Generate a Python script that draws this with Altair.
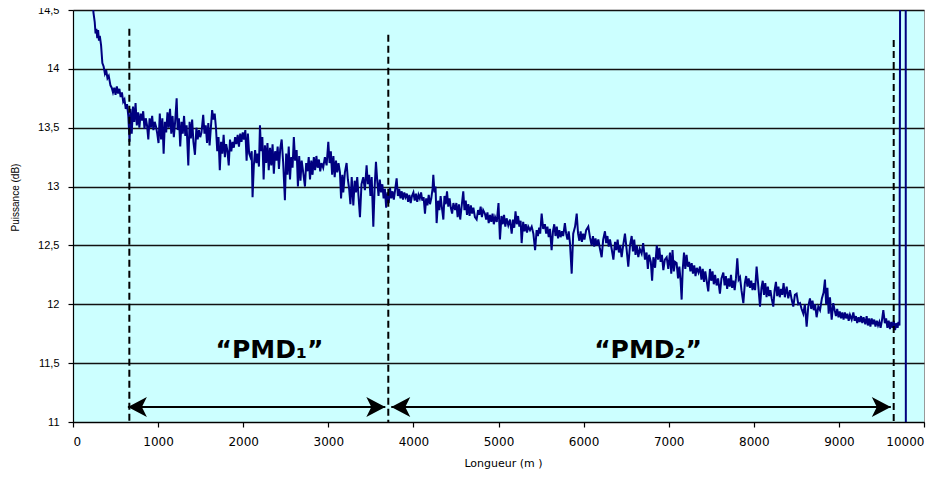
import altair as alt
import pandas as pd

# ---- data ----
distance_m = [
    225, 240, 255, 265, 275, 285, 295, 305, 315, 330, 345, 360, 375, 390, 405, 420, 440, 455, 470, 485,
    500, 515, 530, 545, 560, 575, 590, 605, 620, 635, 650,
    665, 675, 690, 705, 720, 735, 750, 765, 780, 795, 810, 825, 840, 855, 870, 885, 900, 915, 930, 945,
    960, 975, 990, 1005, 1020, 1035, 1050, 1065, 1080, 1095, 1110, 1125, 1140, 1155, 1170, 1185, 1200, 1218, 1230, 1245,
    1260, 1275, 1290, 1305, 1320, 1335, 1355, 1370, 1385, 1400, 1415, 1433, 1450, 1465, 1480, 1495, 1510, 1530, 1545, 1560,
    1575, 1590, 1605, 1620, 1635, 1650, 1665, 1680, 1695, 1710, 1725, 1740, 1755, 1770, 1785, 1800, 1815, 1830, 1845, 1860,
    1875, 1890, 1905, 1920, 1935, 1950, 1965, 1980, 1995, 2010, 2025, 2040, 2055, 2070, 2085, 2100, 2110, 2125, 2140, 2155,
    2170, 2185, 2197, 2210, 2225, 2240, 2255, 2270, 2285, 2300, 2315, 2330, 2345, 2360, 2375, 2390, 2405, 2420, 2435, 2452,
    2470, 2490, 2505, 2520, 2535, 2550, 2565, 2580, 2595, 2610, 2628, 2643, 2658, 2673, 2687, 2705, 2726, 2740, 2755, 2770,
    2785, 2800, 2815, 2830, 2845, 2860, 2875, 2890, 2905, 2920, 2940, 2960, 2980, 3000, 3015, 3030, 3045, 3060, 3075, 3090,
    3105, 3120, 3137, 3150, 3165, 3176, 3195, 3215, 3230, 3245, 3260, 3275, 3294, 3310, 3325, 3340, 3355, 3372, 3390, 3411,
    3430, 3450, 3465, 3480, 3495, 3510, 3529, 3545, 3560, 3575, 3590, 3605, 3620, 3635, 3650, 3665,
    3680, 3695, 3710, 3725, 3740, 3755, 3770, 3785, 3803, 3818, 3833, 3848, 3863, 3878, 3893, 3908, 3923, 3938, 3953, 3968,
    3983, 4000, 4015, 4030, 4045, 4060, 4075, 4090, 4105, 4120, 4136, 4150, 4165, 4180, 4195, 4210, 4225, 4234, 4248, 4260,
    4273, 4290, 4305, 4320, 4335, 4352, 4365, 4380, 4395, 4410, 4425, 4440, 4455, 4470, 4490, 4505, 4520, 4535, 4550, 4565,
    4586, 4600, 4615, 4630, 4645, 4660, 4675, 4690, 4705, 4723, 4743, 4760, 4775, 4790, 4805, 4820, 4840, 4855, 4870, 4885,
    4900, 4915, 4930, 4945, 4960, 4980, 5000, 5017, 5035, 5050, 5065, 5080, 5095, 5115, 5135, 5155, 5170, 5185, 5200, 5215,
    5230, 5245, 5260, 5272, 5290, 5305, 5320, 5335, 5350, 5370, 5390, 5410, 5430, 5448, 5463, 5478, 5490, 5507, 5525, 5545,
    5560, 5575, 5590, 5605, 5624, 5640, 5655, 5670, 5685, 5700, 5715, 5730, 5745, 5760, 5780, 5795, 5810, 5825, 5840, 5860,
    5878, 5900, 5919, 5935, 5950, 5965, 5980, 5995, 6010, 6030, 6055, 6075, 6095, 6110, 6125, 6140, 6155, 6173, 6190, 6212,
    6230, 6251, 6265, 6280, 6295, 6310, 6330, 6350, 6370, 6385, 6400, 6415, 6430, 6447, 6465, 6486, 6505, 6525, 6545, 6565,
    6580, 6595, 6610, 6625, 6643, 6660, 6682, 6700, 6721, 6740, 6755, 6770,
    6790, 6805, 6820, 6840, 6860, 6875, 6890, 6905, 6920, 6937, 6955, 6976, 6995, 7015, 7030, 7045, 7060, 7075, 7093, 7110,
    7125, 7140, 7152, 7165, 7180, 7195, 7210, 7225, 7240, 7255, 7270, 7285, 7300, 7315, 7330, 7350, 7368, 7385, 7400, 7415,
    7430, 7446, 7465, 7485, 7500, 7515, 7530, 7545, 7563, 7580, 7602, 7620, 7642, 7657, 7672, 7687, 7702, 7717, 7732, 7745,
    7760, 7775, 7790, 7806, 7822, 7838, 7855, 7877, 7895, 7910, 7925, 7940, 7955, 7970, 7985, 8000, 8015, 8033, 8050, 8073,
    8090, 8105, 8120, 8135, 8150, 8165, 8180, 8195, 8210, 8229, 8245, 8260, 8275, 8290, 8305, 8320, 8335, 8350, 8365, 8386,
    8405, 8425, 8445, 8464, 8483, 8503, 8523, 8543, 8562, 8582, 8600, 8621, 8640, 8660, 8675, 8690, 8705, 8720, 8738, 8758,
    8778, 8800, 8820, 8836, 8850, 8865, 8880, 8895, 8915, 8934, 8950, 8965, 8980, 8995, 9010, 9025, 9040, 9055, 9070, 9085,
    9100, 9115, 9130, 9150, 9170, 9185, 9200, 9215, 9230, 9245, 9260, 9275, 9290, 9310, 9326, 9340, 9355, 9370, 9385, 9400,
    9415, 9430, 9445, 9460, 9475, 9490, 9505, 9522, 9540, 9555, 9570, 9585, 9600, 9615, 9630, 9645, 9660, 9675, 9690, 9700,
    9712, 9720, 9785, 9787,
]
power_db = [
    14.75, 14.48, 14.40, 14.30, 14.34, 14.26, 14.33, 14.24, 14.28, 14.20, 14.05, 14.02, 13.96, 13.99, 13.92, 13.94, 13.86, 13.84, 13.80, 13.84,
    13.78, 13.85, 13.79, 13.83, 13.76, 13.80, 13.72, 13.74, 13.66, 13.70, 13.60,
    13.38, 13.66, 13.45, 13.68, 13.55, 13.71, 13.52, 13.63, 13.50, 13.62, 13.56, 13.64, 13.49, 13.58, 13.52, 13.40, 13.58, 13.50, 13.60, 13.48,
    13.55, 13.51, 13.45, 13.37, 13.62, 13.40, 13.58, 13.28, 13.55, 13.46, 13.63, 13.50, 13.66, 13.45, 13.60, 13.42, 13.55, 13.75, 13.48, 13.58,
    13.34, 13.55, 13.45, 13.60, 13.43, 13.52, 13.18, 13.55, 13.41, 13.57, 13.38, 13.27, 13.50, 13.40, 13.48, 13.42, 13.46, 13.61, 13.45, 13.52,
    13.37, 13.54, 13.35, 13.50, 13.65, 13.57, 13.62, 13.50, 13.30, 13.42, 13.14, 13.38, 13.28, 13.44, 13.25, 13.36, 13.30, 13.18, 13.40, 13.30,
    13.38, 13.33, 13.42, 13.36, 13.44, 13.34, 13.45, 13.38, 13.46, 13.40, 13.48, 13.22, 13.45, 13.28, 13.25, 13.30, 12.91, 13.18, 13.31, 13.20,
    13.28, 13.17, 13.52, 13.30, 13.42, 13.06, 13.35, 13.20, 13.37, 13.14, 13.33, 13.18, 13.36, 13.11, 13.30, 13.22, 13.34, 13.15, 13.32, 13.40,
    13.20, 12.885, 13.28, 13.10, 13.34, 13.06, 13.25, 13.16, 13.42, 13.22, 13.31, 13.00, 13.26, 13.05, 13.22, 13.12, 13.00, 13.20, 13.13, 13.25,
    13.06, 13.22, 13.10, 13.25, 13.14, 13.26, 13.16, 13.23, 13.13, 13.20, 13.16, 13.25, 13.18, 13.38, 13.20, 13.30, 13.10, 13.26, 13.08, 13.22,
    13.12, 13.20, 13.12, 12.90, 13.10, 12.95, 13.12, 13.20, 13.06, 12.98, 12.85, 13.08, 12.84, 13.05, 12.95, 13.08, 12.92, 12.74, 13.02, 13.08,
    12.97, 13.18, 13.02, 13.10, 12.92, 13.08, 12.66, 13.00, 13.21, 13.05, 12.92, 13.06, 12.95, 13.02, 12.90, 12.98,
    12.82, 12.95, 12.86, 12.99, 12.90, 12.96, 12.89, 12.97, 13.07, 12.92, 12.98, 12.90, 12.96, 12.89, 12.95, 12.91, 12.94, 12.87, 12.93, 12.86,
    12.92, 12.95, 12.88, 12.94, 12.87, 12.93, 12.90, 12.95, 12.88, 12.91, 12.77, 12.90, 12.84, 12.93, 12.85, 12.90, 12.98, 13.10, 12.95, 13.00,
    12.69, 12.88, 12.80, 12.92, 12.82, 12.72, 12.92, 12.85, 12.96, 12.83, 12.90, 12.82, 12.77, 12.86, 12.80, 12.86, 12.74, 12.85, 12.72, 12.82,
    12.96, 12.80, 12.88, 12.76, 12.85, 12.75, 12.84, 12.77, 12.82, 12.74, 12.72, 12.80, 12.76, 12.83, 12.74, 12.80, 12.77, 12.72, 12.78, 12.69,
    12.76, 12.70, 12.77, 12.68, 12.74, 12.70, 12.86, 12.55, 12.75, 12.68, 12.76, 12.66, 12.73, 12.67, 12.72, 12.60, 12.72, 12.65, 12.79, 12.68,
    12.75, 12.66, 12.71, 12.52, 12.70, 12.62, 12.68, 12.61, 12.66, 12.63, 12.66, 12.60, 12.46, 12.63, 12.58, 12.65, 12.60, 12.77, 12.64, 12.68,
    12.60, 12.66, 12.57, 12.64, 12.46, 12.62, 12.68, 12.58, 12.66, 12.56, 12.63, 12.57, 12.62, 12.58, 12.69, 12.60, 12.55, 12.62, 12.52, 12.26,
    12.60, 12.66, 12.77, 12.60, 12.54, 12.62, 12.53, 12.60, 12.55, 12.63, 12.66, 12.57, 12.50, 12.58, 12.49, 12.56, 12.50, 12.55, 12.48, 12.40,
    12.55, 12.62, 12.52, 12.58, 12.49, 12.55, 12.47, 12.38, 12.53, 12.46, 12.55, 12.44, 12.50, 12.40, 12.50, 12.60, 12.47, 12.32, 12.50, 12.58,
    12.45, 12.55, 12.42, 12.50, 12.40, 12.47, 12.43, 12.52, 12.38, 12.44, 12.30, 12.42,
    12.36, 12.20, 12.40, 12.31, 12.50, 12.38, 12.48, 12.36, 12.42, 12.29, 12.38, 12.40, 12.30, 12.44, 12.26, 12.46, 12.28, 12.36, 12.35, 12.22,
    12.32, 12.20, 12.04, 12.30, 12.44, 12.30, 12.42, 12.32, 12.36, 12.28, 12.35, 12.26, 12.33, 12.24, 12.31, 12.27, 12.32, 12.21, 12.30, 12.19,
    12.28, 12.20, 12.11, 12.30, 12.20, 12.28, 12.17, 12.25, 12.16, 12.22, 12.09, 12.22, 12.27, 12.16, 12.24, 12.13, 12.22, 12.15, 12.25, 12.14,
    12.20, 12.12, 12.22, 12.39, 12.21, 12.23, 12.12, 12.01, 12.18, 12.24, 12.15, 12.22, 12.14, 12.20, 12.12, 12.18, 12.12, 12.32, 12.18, 11.98,
    12.14, 12.20, 12.08, 12.18, 12.06, 12.15, 12.07, 12.12, 12.05, 11.98, 12.12, 12.19, 12.07, 12.15, 12.06, 12.13, 12.08, 12.18, 12.06, 12.15,
    12.05, 12.12, 12.04, 11.98, 12.08, 12.09, 12.00, 12.01, 11.96, 11.92, 12.00, 11.81, 11.98, 12.05, 11.96, 12.03, 11.95, 12.00, 11.89, 11.98,
    11.95, 12.05, 12.10, 12.21, 12.00, 12.14, 11.92, 12.06, 11.87, 12.01, 11.95, 11.90, 11.96, 11.89, 11.94, 11.88, 11.93, 11.87, 11.93, 11.88,
    11.92, 11.86, 11.91, 11.87, 11.93, 11.86, 11.90, 11.84, 11.89, 11.85, 11.90, 11.84, 11.89, 11.83, 11.90, 11.82, 11.88, 11.81, 11.88, 11.83,
    11.87, 11.81, 11.86, 11.82, 11.85, 11.80, 11.86, 11.95, 11.84, 11.88, 11.80, 11.86, 11.79, 11.85, 11.80, 11.86, 11.78, 11.84, 11.80, 11.85,
    11.82, 15.0, 15.0, 10.0,
]

# section markers (dashed verticals) and arrows
marker_m = [662, 3705, 9644]
marker_top_db = [14.34, 14.29, 14.245]
arrow_start_m = [645, 3740]
arrow_end_m = [3670, 9610]
arrow_db = 11.127
label_text = ["\u201cPMD\u2081\u201d", "\u201cPMD\u2082\u201d"]
label_m = [2309, 6757]
label_db = 11.545

y_ticks = [11, 11.5, 12, 12.5, 13, 13.5, 14, 14.5]

trace_df = pd.DataFrame({"m": distance_m, "db": power_db})
marker_df = pd.DataFrame({"m": marker_m, "db": marker_top_db, "db2": [11.0] * 3})
arrow_df = pd.DataFrame({"m": arrow_start_m, "m2": arrow_end_m, "db": [arrow_db] * 2})
head_df = pd.DataFrame({
    "m": [arrow_start_m[0], arrow_end_m[0], arrow_start_m[1], arrow_end_m[1]],
    "db": [arrow_db] * 4,
    "dir": ["left", "right", "left", "right"],
})
label_df = pd.DataFrame({"m": label_m, "db": [label_db] * 2, "t": label_text})

x_scale = alt.Scale(domain=[0, 10000], nice=False, zero=False)
y_scale = alt.Scale(domain=[11, 14.5], nice=False, zero=False)

x_axis = alt.Axis(
    values=list(range(0, 10001, 1000)), format="d", grid=False,
    title="Longueur (m )", titleX=430, titleY=35, titleBaseline="top",
    titleFont="DejaVu Sans", titleFontSize=11, titleFontWeight="normal",
    labelFont="DejaVu Sans", labelFontSize=12, labelPadding=9,
)
y_axis = alt.Axis(
    values=y_ticks, labelExpr="replace(toString(datum.value), '.', ',')",
    grid=True, gridColor="#111111", gridWidth=1.5,
    title="Puissance (dB)", titleX=-58, titleY=187, titleAngle=270,
    titleAlign="center", titleBaseline="middle",
    titleFont="Liberation Sans", titleFontSize=10, titleFontWeight="normal",
    labelFont="Liberation Sans", labelFontSize=11, labelPadding=9,
)

trace = alt.Chart(trace_df).mark_line(color="#000080", strokeWidth=2, clip=True).encode(
    x=alt.X("m:Q", scale=x_scale, axis=x_axis),
    y=alt.Y("db:Q", scale=y_scale, axis=y_axis),
    order="m:Q",
)

markers = alt.Chart(marker_df).mark_rule(color="black", strokeWidth=2, strokeDash=[7, 4]).encode(
    x="m:Q", y="db:Q", y2="db2:Q",
)

arrows = alt.Chart(arrow_df).mark_rule(color="black", strokeWidth=2).encode(
    x="m:Q", x2="m2:Q", y="db:Q",
)

left_head = "M0,0L3.8,-2L2.8,0L3.8,2Z"
right_head = "M0,0L-3.8,-2L-2.8,0L-3.8,2Z"
heads = alt.Chart(head_df).mark_point(filled=True, opacity=1, color="black", size=100, strokeWidth=0).encode(
    x="m:Q", y="db:Q",
    shape=alt.Shape("dir:N", scale=alt.Scale(domain=["left", "right"], range=[left_head, right_head]), legend=None),
)

labels = alt.Chart(label_df).mark_text(
    font="DejaVu Sans", fontWeight="bold", fontSize=25, color="black", align="center", baseline="alphabetic",
).encode(x="m:Q", y="db:Q", text="t:N")

chart = alt.layer(trace, markers, arrows, heads, labels).properties(
    width=851, height=412,
    autosize=alt.AutoSizeParams(type="none"),
    padding={"left": 65, "top": 2, "right": 14, "bottom": 50},
    background="white",
).configure_view(
    fill="#CCFFFF", stroke="#999999", strokeWidth=1,
).configure_axis(
    domainColor="black", domainWidth=1.2, tickColor="black", tickSize=5, tickWidth=1.2,
    labelColor="black", titleColor="black",
)

chart.save("out.html", embed_options={"renderer": "svg", "actions": False})
